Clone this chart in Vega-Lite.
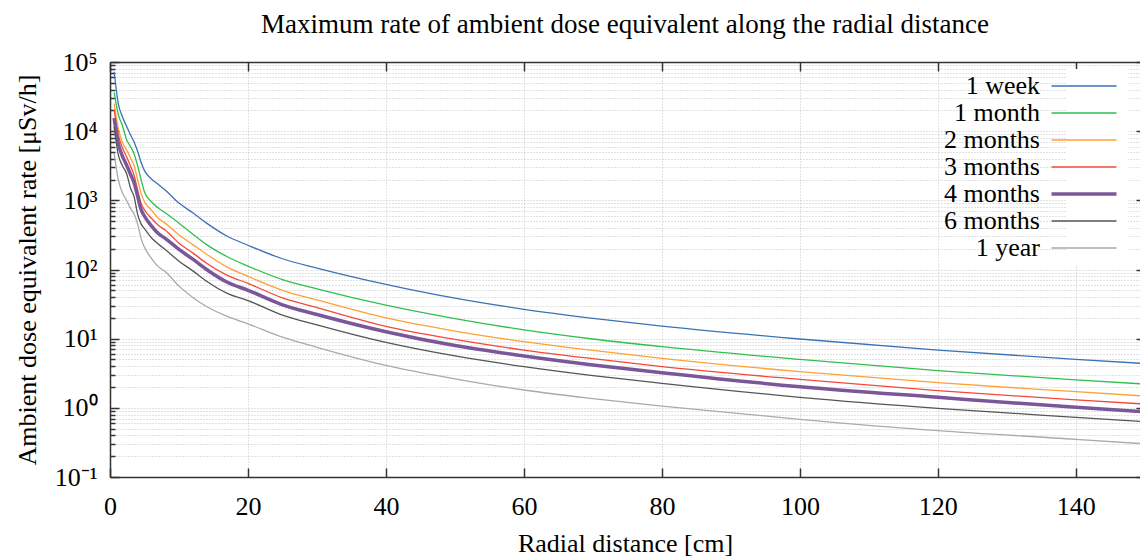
{
"$schema": "https://vega.github.io/schema/vega-lite/v6.json",
"width": 1030, "height": 415,
"autosize": {"type": "none"},
"padding": {"left": 110, "top": 62, "right": 0, "bottom": 80},
"background": "white",
"config": {"font": "Liberation Serif", "view": {"stroke": null},
 "axis": {"domainColor": "#333", "domainWidth": 1.5, "tickColor": "#333", "tickWidth": 1.5, "gridColor": "#c4c4c4", "gridDash": [1, 2], "gridWidth": 1, "labelFontSize": 26, "titleFontSize": 26, "labelColor": "#000", "titleColor": "#000", "titleFontWeight": "normal", "labelFont": "Liberation Serif", "titleFont": "Liberation Serif", "labelOverlap": false}},
"title": {"text": "Maximum rate of ambient dose equivalent along the radial distance", "fontSize": 27, "fontWeight": "normal", "font": "Liberation Serif", "color": "#000", "anchor": "middle", "frame": "group", "offset": 10},
"data": {"values": [
{"s":"1 week","x":0.6,"v":72400},{"s":"1 week","x":1.2,"v":25100},{"s":"1 week","x":1.8,"v":16200},{"s":"1 week","x":2.4,"v":11750},{"s":"1 week","x":3,"v":8710},{"s":"1 week","x":3.5,"v":6920},{"s":"1 week","x":4,"v":5130},{"s":"1 week","x":4.5,"v":3550},{"s":"1 week","x":5,"v":2690},{"s":"1 week","x":6,"v":2040},{"s":"1 week","x":7,"v":1700},{"s":"1 week","x":8,"v":1410},{"s":"1 week","x":10,"v":912},{"s":"1 week","x":12,"v":661},{"s":"1 week","x":14,"v":468},{"s":"1 week","x":17,"v":302},{"s":"1 week","x":20,"v":224},{"s":"1 week","x":25,"v":143},{"s":"1 week","x":30,"v":105},{"s":"1 week","x":40,"v":61},{"s":"1 week","x":50,"v":38.5},{"s":"1 week","x":60,"v":26.6},{"s":"1 week","x":70,"v":19.7},{"s":"1 week","x":80,"v":15.2},{"s":"1 week","x":100,"v":9.89},{"s":"1 week","x":120,"v":6.85},{"s":"1 week","x":140,"v":5.01},{"s":"1 week","x":150,"v":4.37},
{"s":"1 month","x":0.6,"v":36300},{"s":"1 month","x":1.2,"v":17400},{"s":"1 month","x":1.8,"v":12000},{"s":"1 month","x":2.4,"v":7590},{"s":"1 month","x":3,"v":5890},{"s":"1 month","x":3.5,"v":4680},{"s":"1 month","x":4,"v":3160},{"s":"1 month","x":4.5,"v":2000},{"s":"1 month","x":5,"v":1320},{"s":"1 month","x":6,"v":955},{"s":"1 month","x":7,"v":776},{"s":"1 month","x":8,"v":661},{"s":"1 month","x":10,"v":468},{"s":"1 month","x":12,"v":324},{"s":"1 month","x":14,"v":229},{"s":"1 month","x":17,"v":153},{"s":"1 month","x":20,"v":112},{"s":"1 month","x":25,"v":71.6},{"s":"1 month","x":30,"v":52.5},{"s":"1 month","x":40,"v":30.5},{"s":"1 month","x":50,"v":19.5},{"s":"1 month","x":60,"v":13.4},{"s":"1 month","x":70,"v":9.89},{"s":"1 month","x":80,"v":7.66},{"s":"1 month","x":100,"v":5.01},{"s":"1 month","x":120,"v":3.44},{"s":"1 month","x":140,"v":2.53},{"s":"1 month","x":150,"v":2.21},
{"s":"2 months","x":0.6,"v":25100},{"s":"2 months","x":1.2,"v":11000},{"s":"2 months","x":1.8,"v":6920},{"s":"2 months","x":2.4,"v":5370},{"s":"2 months","x":3,"v":4070},{"s":"2 months","x":3.5,"v":3160},{"s":"2 months","x":4,"v":2000},{"s":"2 months","x":4.5,"v":1260},{"s":"2 months","x":5,"v":955},{"s":"2 months","x":6,"v":724},{"s":"2 months","x":7,"v":550},{"s":"2 months","x":8,"v":468},{"s":"2 months","x":10,"v":316},{"s":"2 months","x":12,"v":229},{"s":"2 months","x":14,"v":166},{"s":"2 months","x":17,"v":108},{"s":"2 months","x":20,"v":79.4},{"s":"2 months","x":25,"v":50.1},{"s":"2 months","x":30,"v":36.3},{"s":"2 months","x":40,"v":19.95},{"s":"2 months","x":50,"v":12.9},{"s":"2 months","x":60,"v":9.06},{"s":"2 months","x":70,"v":6.76},{"s":"2 months","x":80,"v":5.2},{"s":"2 months","x":100,"v":3.33},{"s":"2 months","x":120,"v":2.31},{"s":"2 months","x":140,"v":1.71},{"s":"2 months","x":150,"v":1.48},
{"s":"3 months","x":0.6,"v":20400},{"s":"3 months","x":1.2,"v":8910},{"s":"3 months","x":1.8,"v":5750},{"s":"3 months","x":2.4,"v":4270},{"s":"3 months","x":3,"v":3090},{"s":"3 months","x":3.5,"v":2290},{"s":"3 months","x":4,"v":1410},{"s":"3 months","x":4.5,"v":912},{"s":"3 months","x":5,"v":724},{"s":"3 months","x":6,"v":550},{"s":"3 months","x":7,"v":437},{"s":"3 months","x":8,"v":372},{"s":"3 months","x":10,"v":240},{"s":"3 months","x":12,"v":174},{"s":"3 months","x":14,"v":123},{"s":"3 months","x":17,"v":82.2},{"s":"3 months","x":20,"v":63.1},{"s":"3 months","x":25,"v":38.9},{"s":"3 months","x":30,"v":28.2},{"s":"3 months","x":40,"v":15.1},{"s":"3 months","x":50,"v":9.77},{"s":"3 months","x":60,"v":6.85},{"s":"3 months","x":70,"v":5.13},{"s":"3 months","x":80,"v":3.94},{"s":"3 months","x":100,"v":2.58},{"s":"3 months","x":120,"v":1.77},{"s":"3 months","x":140,"v":1.3},{"s":"3 months","x":150,"v":1.135},
{"s":"4 months","x":0.6,"v":15500},{"s":"4 months","x":1.2,"v":6610},{"s":"4 months","x":1.8,"v":4370},{"s":"4 months","x":2.4,"v":3240},{"s":"4 months","x":3,"v":2340},{"s":"4 months","x":3.5,"v":1780},{"s":"4 months","x":4,"v":1150},{"s":"4 months","x":4.5,"v":741},{"s":"4 months","x":5,"v":589},{"s":"4 months","x":6,"v":427},{"s":"4 months","x":7,"v":331},{"s":"4 months","x":8,"v":282},{"s":"4 months","x":10,"v":195},{"s":"4 months","x":12,"v":141},{"s":"4 months","x":14,"v":100},{"s":"4 months","x":17,"v":65.3},{"s":"4 months","x":20,"v":50.1},{"s":"4 months","x":25,"v":30.9},{"s":"4 months","x":30,"v":22.4},{"s":"4 months","x":40,"v":12.6},{"s":"4 months","x":50,"v":7.94},{"s":"4 months","x":60,"v":5.62},{"s":"4 months","x":70,"v":4.17},{"s":"4 months","x":80,"v":3.22},{"s":"4 months","x":100,"v":2.02},{"s":"4 months","x":120,"v":1.42},{"s":"4 months","x":140,"v":1.016},{"s":"4 months","x":150,"v":0.879},
{"s":"6 months","x":0.6,"v":11500},{"s":"6 months","x":1.2,"v":4570},{"s":"6 months","x":1.8,"v":3160},{"s":"6 months","x":2.4,"v":2450},{"s":"6 months","x":3,"v":1480},{"s":"6 months","x":3.5,"v":1120},{"s":"6 months","x":4,"v":631},{"s":"6 months","x":4.5,"v":457},{"s":"6 months","x":5,"v":389},{"s":"6 months","x":6,"v":288},{"s":"6 months","x":7,"v":234},{"s":"6 months","x":8,"v":195},{"s":"6 months","x":10,"v":132},{"s":"6 months","x":12,"v":95.5},{"s":"6 months","x":14,"v":67.6},{"s":"6 months","x":17,"v":45.2},{"s":"6 months","x":20,"v":35.5},{"s":"6 months","x":25,"v":21.9},{"s":"6 months","x":30,"v":15.8},{"s":"6 months","x":40,"v":8.81},{"s":"6 months","x":50,"v":5.62},{"s":"6 months","x":60,"v":3.94},{"s":"6 months","x":70,"v":2.92},{"s":"6 months","x":80,"v":2.26},{"s":"6 months","x":100,"v":1.42},{"s":"6 months","x":120,"v":0.984},{"s":"6 months","x":140,"v":0.73},{"s":"6 months","x":150,"v":0.631},
{"s":"1 year","x":0.6,"v":4790},{"s":"1 year","x":1.2,"v":2000},{"s":"1 year","x":1.8,"v":1290},{"s":"1 year","x":2.4,"v":1000},{"s":"1 year","x":3,"v":759},{"s":"1 year","x":3.5,"v":631},{"s":"1 year","x":4,"v":457},{"s":"1 year","x":4.5,"v":282},{"s":"1 year","x":5,"v":209},{"s":"1 year","x":6,"v":145},{"s":"1 year","x":7,"v":110},{"s":"1 year","x":8,"v":93.3},{"s":"1 year","x":10,"v":57.5},{"s":"1 year","x":12,"v":39.5},{"s":"1 year","x":14,"v":29.2},{"s":"1 year","x":17,"v":21},{"s":"1 year","x":20,"v":16.4},{"s":"1 year","x":25,"v":10.5},{"s":"1 year","x":30,"v":7.5},{"s":"1 year","x":40,"v":4.11},{"s":"1 year","x":50,"v":2.63},{"s":"1 year","x":60,"v":1.81},{"s":"1 year","x":70,"v":1.36},{"s":"1 year","x":80,"v":1.06},{"s":"1 year","x":100,"v":0.682},{"s":"1 year","x":120,"v":0.468},{"s":"1 year","x":140,"v":0.351},{"s":"1 year","x":150,"v":0.302}
]},
"layer": [
 {"mark": {"type": "line", "clip": true, "interpolate": "monotone"},
  "encoding": {
   "x": {"field": "x", "type": "quantitative", "scale": {"domain": [0, 149.3], "nice": false, "zero": false},
     "axis": {"orient": "bottom", "values": [0, 20, 40, 60, 80, 100, 120, 140], "tickSize": -9, "labelPadding": 25, "labelFlush": false, "labelFont": "Liberation Serif", "titleFont": "Liberation Serif", "labelFontSize": 26, "titleFontSize": 26, "title": "Radial distance [cm]", "titlePadding": 11, "grid": true}},
   "y": {"field": "v", "type": "quantitative", "scale": {"type": "log", "domain": [0.1, 100000], "nice": false},
     "axis": {"orient": "left", "values": [0.1, 1, 10, 100, 1000, 10000, 100000], "labelExpr": "['10⁻¹','10⁰','10¹','10²','10³','10⁴','10⁵'][round(log(datum.value)/LN10)+1]", "labelFont": "Liberation Serif", "titleFont": "Liberation Serif", "labelFontSize": 26, "titleFontSize": 26, "tickSize": -9, "labelPadding": 22, "title": "Ambient dose equivalent rate [μSv/h]", "titlePadding": 14, "grid": true}},
   "color": {"field": "s", "type": "nominal",
     "scale": {"domain": ["1 week", "1 month", "2 months", "3 months", "4 months", "6 months", "1 year"], "range": ["#3a72b5", "#2fbf50", "#ffa133", "#f5473a", "#7b5799", "#555555", "#aaaaaa"]},
     "legend": {"title": null, "orient": "none", "legendX": 957, "legendY": 7, "symbolType": "M-3,0H3", "symbolSize": 469, "symbolStrokeWidth": 1.3, "labelFontSize": 26, "labelFont": "Liberation Serif", "labelColor": "#000", "labelAlign": "right", "labelOffset": -57, "rowPadding": 1, "padding": 4, "fillColor": "white",
       "encode": {"symbols": {"update": {"strokeWidth": {"signal": "datum.value === '4 months' ? 3.5 : 1.3"}}}}}},
   "strokeWidth": {"condition": {"test": "datum.s === '4 months'", "value": 3.5}, "value": 1.3}
  }},
 {"mark": {"type": "point", "opacity": 0},
  "encoding": {
   "x": {"field": "x", "type": "quantitative", "axis": {"orient": "top", "values": [0, 20, 40, 60, 80, 100, 120, 140], "tickSize": -9, "labels": false, "title": null, "grid": false}},
   "y": {"field": "v", "type": "quantitative", "axis": {"orient": "left", "values": [0.2,0.3,0.4,0.5,0.6,0.7,0.8,0.9,2,3,4,5,6,7,8,9,20,30,40,50,60,70,80,90,200,300,400,500,600,700,800,900,2000,3000,4000,5000,6000,7000,8000,9000,20000,30000,40000,50000,60000,70000,80000,90000], "tickSize": -5, "labels": false, "title": null, "grid": true, "domain": false}}
  }},
 {"mark": {"type": "point", "opacity": 0},
  "encoding": {
   "x": {"field": "x", "type": "quantitative", "axis": null},
   "y": {"field": "v", "type": "quantitative", "axis": {"orient": "right", "values": [0.1, 1, 10, 100, 1000, 10000, 100000], "tickSize": -4, "labels": false, "title": null, "grid": false, "domain": false}}
  }}
],
"resolve": {"axis": {"x": "independent", "y": "independent"}}
}
